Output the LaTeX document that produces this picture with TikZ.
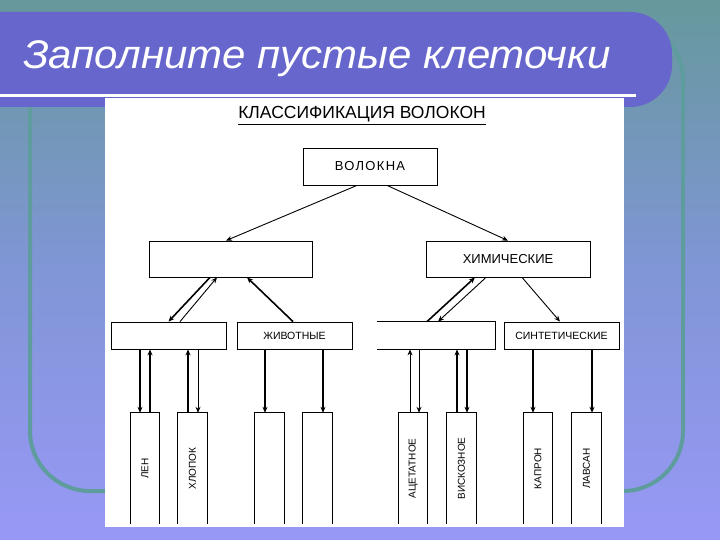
\documentclass[tikz,border=0pt]{standalone}
\usepackage{fontspec}
\setmainfont{Liberation Sans}
\usetikzlibrary{arrows.meta}
\definecolor{banner}{RGB}{102,102,204}
\definecolor{bgtop}{RGB}{102,152,156}
\definecolor{bgmid}{RGB}{128,150,214}
\definecolor{bgbot}{RGB}{152,152,246}
\definecolor{frameline}{RGB}{94,156,158}
\begin{document}
\begin{tikzpicture}[x=1pt,y=-1pt,
  box/.style={draw=black, line width=0.8pt, inner sep=0pt, minimum height=27pt, minimum width=115pt, font=\fontsize{10.5}{12}\selectfont},
  bigbox/.style={box, minimum height=36pt, minimum width=164pt, font=\fontsize{13}{15}\selectfont},
  tallbox/.style={inner sep=0pt, minimum width=29pt, minimum height=111pt, font=\fontsize{10}{12}\selectfont},
  sides/.style={draw=black, line width=0.8pt},
  thickarr/.style={line width=1.6pt, -{Stealth[length=6pt,width=5pt]}},
  thinarr/.style={line width=0.9pt, -{Stealth[length=6pt,width=5pt]}}
]
\useasboundingbox (0,0) rectangle (720,540);
% background
\shade[top color=bgtop, bottom color=bgbot, middle color=bgmid] (0,0) rectangle (720,540);
% frame
\draw[frameline, line width=4pt, rounded corners=60pt] (30,20) rectangle (683,491);
% banner
\fill[banner] (0,12) [rounded corners=42pt] -- (672,12) -- (672,107) [sharp corners] -- (0,107) -- cycle;
\draw[white, line width=3pt] (0,96) -- (636,96);
\node[anchor=base west, text=white, inner sep=0pt, font=\fontsize{40}{44}\selectfont\itshape] (title) at (23,69) {\scalebox{1.05}[1]{Заполните пустые клеточки}};
% white panel
\fill[white] (105,98) rectangle (624,527);
\node[anchor=base, inner sep=0pt, font=\fontsize{17.5}{19}\selectfont] (head) at (362,119) {\underline{КЛАССИФИКАЦИЯ ВОЛОКОН}};
% level 1 and 2
\node[bigbox, minimum width=134pt, minimum height=37pt] (vol) at (370,166.5) {\addfontfeature{LetterSpace=10}ВОЛОКНА};
\node[bigbox, minimum width=163pt] (l2l) at (231,259) {};
\node[bigbox] (chem) at (508,259) {ХИМИЧЕСКИЕ};
% level 3
\node[box] (b1) at (168.5,335.5) {};
\node[box] (zh) at (294.5,335.5) {ЖИВОТНЫЕ};
\node[box, draw=none, minimum width=118pt] (b3) at (436,335.5) {};
\draw[sides] (b3.north west) -- (b3.north east) -- (b3.south east) -- (b3.south west);
\node[box] (syn) at (561.5,335.5) {СИНТЕТИЧЕСКИЕ};
% level 4
\node[tallbox] (l4a) at (145,468.5) {\rotatebox{90}{ЛЕН}};
\node[tallbox] (l4b) at (192.5,468.5) {\rotatebox{90}{ХЛОПОК}};
\node[tallbox] (l4c) at (269.5,468.5) {};
\node[tallbox] (l4d) at (317.5,468.5) {};
\node[tallbox] (l4e) at (413,468.5) {\rotatebox{90}{АЦЕТАТНОЕ}};
\node[tallbox] (l4f) at (461.5,468.5) {\rotatebox{90}{ВИСКОЗНОЕ}};
\node[tallbox] (l4g) at (538,468.5) {\rotatebox{90}{КАПРОН}};
\node[tallbox] (l4h) at (586.5,468.5) {\rotatebox{90}{ЛАВСАН}};
\foreach \n in {l4a,l4b,l4c,l4d,l4e,l4f,l4g,l4h}
  \draw[sides] (\n.south west) |- (\n.north east) -- (\n.south east);
% arrows level 1 -> 2
\draw[thinarr] ([xshift=-13pt]vol.south) -- ([xshift=-5pt]l2l.north);
\draw[thinarr] ([xshift=17pt]vol.south) -- (chem.north);
% level 2 <-> 3
\draw[thickarr] ([xshift=-21pt]l2l.south) -- (b1.north);
\draw[thinarr] ([xshift=11.5pt]b1.north) -- ([xshift=-14pt]l2l.south);
\draw[thickarr] ([xshift=-1.5pt]zh.north) -- ([xshift=16pt]l2l.south);
\draw[thickarr] ([xshift=-9pt]b3.north) -- ([xshift=-33pt]chem.south);
\draw[thinarr] ([xshift=-22pt]chem.south) -- ([xshift=2pt]b3.north);
\draw[thinarr] ([xshift=14pt]chem.south) -- ([xshift=-1.5pt]syn.north);
% level 3 <-> 4
\draw[thickarr] ([xshift=-28.5pt]b1.south) -- ([xshift=-5pt]l4a.north);
\draw[thickarr] ([xshift=5pt]l4a.north) -- ([xshift=-18.5pt]b1.south);
\draw[thickarr] ([xshift=-4.5pt]l4b.north) -- ([xshift=19.5pt]b1.south);
\draw[thinarr] ([xshift=29.5pt]b1.south) -- ([xshift=5.5pt]l4b.north);
\draw[thickarr] ([xshift=-29.5pt]zh.south) -- ([xshift=-4.5pt]l4c.north);
\draw[thickarr] ([xshift=28.5pt]zh.south) -- ([xshift=5.5pt]l4d.north);
\draw[thinarr] ([xshift=-3pt]l4e.north) -- ([xshift=-26pt]b3.south);
\draw[thinarr] ([xshift=-17pt]b3.south) -- ([xshift=6pt]l4e.north);
\draw[thickarr] ([xshift=-4.5pt]l4f.north) -- ([xshift=21pt]b3.south);
\draw[thickarr] ([xshift=31pt]b3.south) -- ([xshift=5.5pt]l4f.north);
\draw[thickarr] ([xshift=-28.5pt]syn.south) -- ([xshift=-5pt]l4g.north);
\draw[thickarr] ([xshift=30.5pt]syn.south) -- ([xshift=5.5pt]l4h.north);
\end{tikzpicture}
\end{document}
